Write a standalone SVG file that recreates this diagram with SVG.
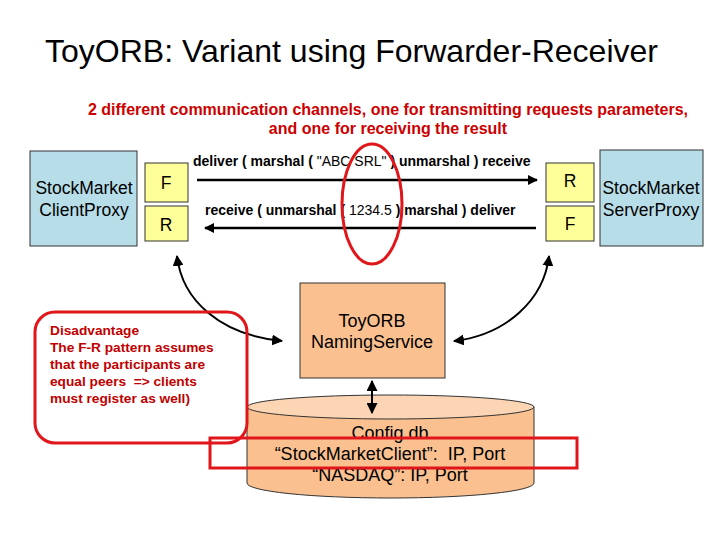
<svg xmlns="http://www.w3.org/2000/svg" width="720" height="540" viewBox="0 0 720 540">
<style>
text{font-family:"Liberation Sans",Arial,sans-serif;fill:#000}
.title{font-size:32px}
.sub{font-size:16px;font-weight:bold;fill:#cc0000}
.box{fill:#b7dde8;stroke:#333;stroke-width:1}
.fr{fill:#ffff99;stroke:#333;stroke-width:1}
.lbl{font-size:17.5px;text-anchor:middle}
.ns-t{font-size:18px;text-anchor:middle}
.msg{font-size:14px;font-weight:bold}
.msg tspan.n{font-weight:normal}
.ns{fill:#fac090;stroke:#333;stroke-width:1}
.db{font-size:18px;text-anchor:middle}
.dis{font-size:13.7px;font-weight:bold;fill:#c00000}
.line{stroke:#000;stroke-width:2.5;fill:none}
.curve{stroke:#000;stroke-width:2;fill:none}
.red{stroke:#e0161b;stroke-width:3;fill:none}
</style>
<defs>
<marker id="ah" viewBox="0 0 10 10" refX="9" refY="5" markerWidth="4" markerHeight="4" orient="auto-start-reverse" markerUnits="strokeWidth">
<path d="M0,0 L10,5 L0,10 z" fill="#000"/>
</marker>
<marker id="ah2" viewBox="0 0 10 10" refX="9" refY="5" markerWidth="5.5" markerHeight="5.5" orient="auto-start-reverse" markerUnits="strokeWidth">
<path d="M0,0 L10,5 L0,10 z" fill="#000"/>
</marker>
</defs>
<rect width="720" height="540" fill="#fff"/>
<text class="title" x="45" y="62">ToyORB: Variant using Forwarder-Receiver</text>
<text class="sub" x="388" y="115" text-anchor="middle">2 different communication channels, one for transmitting requests parameters,</text>
<text class="sub" x="388" y="134" text-anchor="middle">and one for receiving the result</text>

<g id="client">
<rect class="box" x="30" y="151" width="107" height="95"/>
<text class="lbl" x="84" y="194">StockMarket</text>
<text class="lbl" x="84" y="216">ClientProxy</text>
</g>
<g id="clientF">
<rect class="fr" x="145" y="163" width="43" height="39"/>
<text class="lbl" x="166" y="189">F</text>
</g>
<g id="clientR">
<rect class="fr" x="145" y="206" width="43" height="35"/>
<text class="lbl" x="166" y="231">R</text>
</g>
<g id="server">
<rect class="box" x="600" y="150" width="103" height="96"/>
<text class="lbl" x="651" y="194">StockMarket</text>
<text class="lbl" x="651" y="216">ServerProxy</text>
</g>
<g id="serverR">
<rect class="fr" x="546" y="163" width="48" height="39"/>
<text class="lbl" x="570" y="187">R</text>
</g>
<g id="serverF">
<rect class="fr" x="546" y="206" width="48" height="35"/>
<text class="lbl" x="570" y="230">F</text>
</g>
<g id="naming">
<rect class="ns" x="300" y="283" width="145" height="95"/>
<text class="ns-t" x="372" y="327">ToyORB</text>
<text class="ns-t" x="372" y="348">NamingService</text>
</g>
<g id="configdb">
<path d="M247,407 L247,483 A143.5,15 0 0 0 534,483 L534,407 Z" fill="#fac090" stroke="#333" stroke-width="1"/>
<ellipse cx="390.5" cy="407" rx="143.5" ry="12" fill="#fcd5b4" stroke="#333" stroke-width="1"/>
<text class="db" x="390" y="439">Config.db</text>
<text class="db" x="390" y="460">“StockMarketClient”:&#160; IP, Port</text>
<text class="db" x="390" y="481">“NASDAQ”: IP, Port</text>
</g>

<g id="connectors">
<line class="line" x1="197" y1="180" x2="537" y2="180" marker-end="url(#ah)"/>
<line class="line" x1="536" y1="228" x2="205" y2="228" marker-end="url(#ah)"/>
<path class="curve" d="M177,256 C182,300 220,335 282,341" marker-start="url(#ah2)" marker-end="url(#ah2)"/>
<path class="curve" d="M549,256 C544,300 506,335 454,341" marker-start="url(#ah2)" marker-end="url(#ah2)"/>
<line class="curve" x1="372" y1="381" x2="372" y2="413" marker-start="url(#ah2)" marker-end="url(#ah2)"/>
</g>

<g id="messages">
<text class="msg" x="193" y="166">deliver ( marshal ( <tspan class="n">"ABC SRL"</tspan> ) unmarshal ) receive</text>
<text class="msg" x="205" y="215">receive ( unmarshal ( <tspan class="n">1234.5</tspan> ) marshal ) deliver</text>
</g>

<g id="disadvantage">
<rect class="red" x="35" y="312" width="212" height="131" rx="20"/>
<text class="dis" x="50" y="335">Disadvantage</text>
<text class="dis" x="50" y="352">The F-R pattern assumes</text>
<text class="dis" x="50" y="369">that the participants are</text>
<text class="dis" x="50" y="386">equal peers&#160; =&gt; clients</text>
<text class="dis" x="50" y="403">must register as well)</text>
</g>
<ellipse class="red" cx="372" cy="204" rx="30" ry="60"/>
<rect class="red" x="210" y="438" width="367" height="30"/>
</svg>
